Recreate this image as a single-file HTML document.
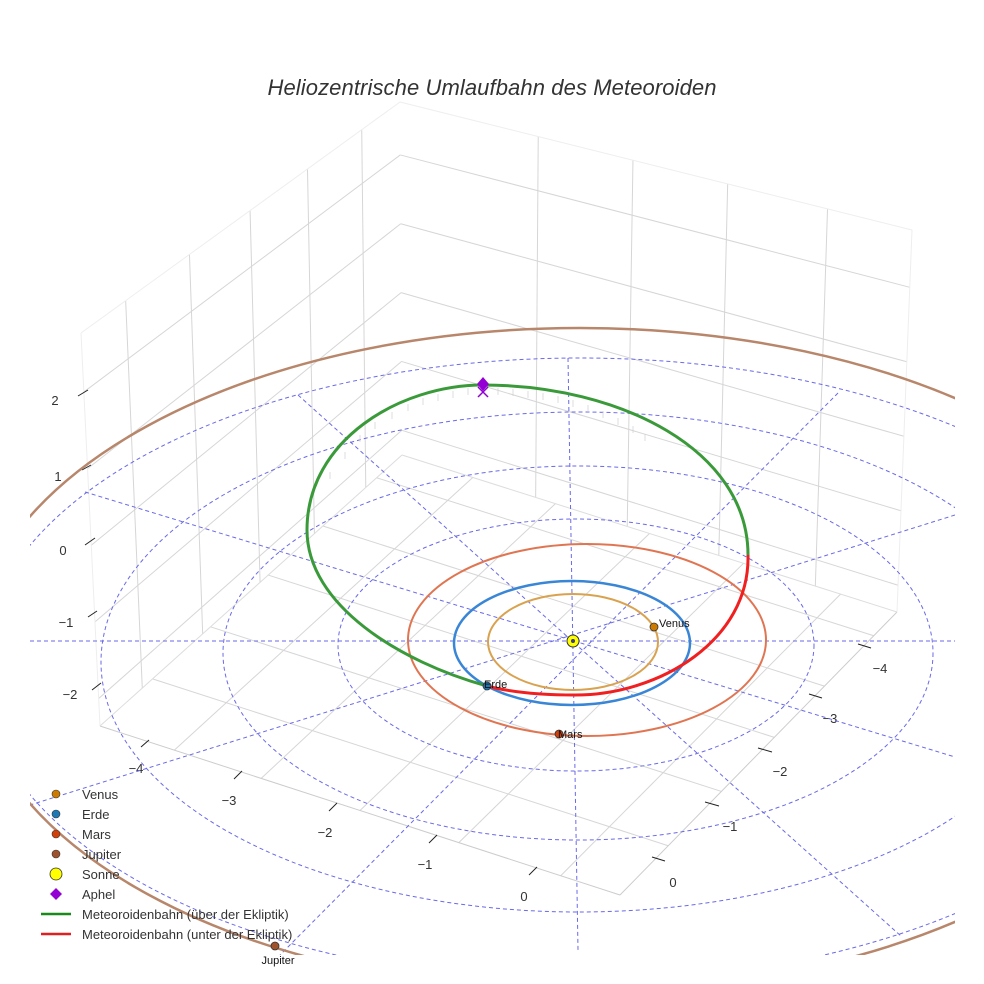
<!DOCTYPE html>
<html><head><meta charset="utf-8"><style>
html,body{margin:0;padding:0;background:#fff;}
svg{display:block;font-family:"Liberation Sans",sans-serif;}
</style></head><body>
<svg id="s" width="984" height="984" viewBox="0 0 984 984" xmlns="http://www.w3.org/2000/svg">
<defs><clipPath id="c"><rect x="30" y="80" width="925" height="875"/></clipPath></defs>
<text x="492" y="95" text-anchor="middle" font-size="22" font-style="italic" fill="#333" textLength="449">Heliozentrische Umlaufbahn des Meteoroiden</text>
<g id="grid" stroke="#d6d6d6" stroke-width="1" fill="none"></g>
<g id="ticks" stroke="#222" stroke-width="1"></g>
<g font-size="13" fill="#333" text-anchor="middle">
<text x="55" y="405">2</text><text x="58" y="481">1</text><text x="63" y="555">0</text><text x="66" y="627">−1</text><text x="70" y="699">−2</text>
<text x="136" y="773">−4</text><text x="229" y="805">−3</text><text x="325" y="837">−2</text><text x="425" y="869">−1</text><text x="524" y="901">0</text>
<text x="880" y="673">−4</text><text x="830" y="723">−3</text><text x="780" y="776">−2</text><text x="730" y="831">−1</text><text x="673" y="887">0</text>
</g>
<g clip-path="url(#c)" fill="none">
<g stroke="#6a6ae8" stroke-width="1" stroke-dasharray="4,3">
<ellipse cx="576" cy="645" rx="238" ry="126"/>
<ellipse cx="578" cy="653" rx="355" ry="187"/>
<ellipse cx="579" cy="662" rx="478" ry="250"/>
<ellipse cx="580" cy="670" rx="600" ry="312"/>
<line x1="30" y1="641" x2="955" y2="641"/>
<line x1="568" y1="358" x2="578" y2="950"/>
<line x1="85" y1="492" x2="955" y2="757"/>
<line x1="298" y1="395" x2="902" y2="937"/>
<line x1="838" y1="393" x2="280" y2="955"/>
<line x1="955" y1="515" x2="30" y2="805"/>
</g>
<ellipse cx="580" cy="660" rx="610" ry="332" stroke="#b8866a" stroke-width="2.5"/>
</g>
<ellipse cx="573" cy="642" rx="85" ry="48" fill="none" stroke="#d9a24f" stroke-width="2"/>
<ellipse cx="572" cy="643" rx="118" ry="62" fill="none" stroke="#3a86d6" stroke-width="2.5"/>
<ellipse cx="587" cy="640" rx="179" ry="96" fill="none" stroke="#e07552" stroke-width="2"/>
<g id="drops" stroke="#d0d0d0" stroke-width="0.7"></g>
<path d="M487,686 C400,662 307,605 307,530 C307,440 400,385 483,385 C620,385 748,450 748,555" fill="none" stroke="#3a9a3a" stroke-width="3"/>
<path d="M748,555 C750,640 660,695 575,695 C540,695 510,692 487,686" fill="none" stroke="#f02020" stroke-width="3"/>
<circle cx="573" cy="641" r="6" fill="#ffff00" stroke="#333" stroke-width="1"/>
<circle cx="573" cy="641" r="2" fill="#3a3a9a"/>
<circle cx="654" cy="627" r="4" fill="#cc7a00" stroke="#333" stroke-width="0.8"/>
<text x="659" y="627" font-size="11" fill="#111">Venus</text>
<circle cx="487" cy="686" r="4" fill="#1f77b4" stroke="#333" stroke-width="0.8"/>
<text x="484" y="688" font-size="11" fill="#111">Erde</text>
<circle cx="559" cy="734" r="4" fill="#d2400a" stroke="#333" stroke-width="0.8"/>
<text x="558" y="738" font-size="11" fill="#111">Mars</text>
<circle cx="275" cy="946" r="4" fill="#a0522d" stroke="#333" stroke-width="0.8"/>
<text x="278" y="964" font-size="11" fill="#111" text-anchor="middle">Jupiter</text>
<path d="M483,377 L489,384 L483,391 L477,384 Z" fill="#9400d3"/>
<path d="M478,387 L488,397 M488,387 L478,397" stroke="#9400d3" stroke-width="1.5"/>
<g font-size="13" fill="#333">
<circle cx="56" cy="794" r="4" fill="#cc7a00" stroke="#333" stroke-width="0.6"/><text x="82" y="799">Venus</text>
<circle cx="56" cy="814" r="4" fill="#1f77b4" stroke="#333" stroke-width="0.6"/><text x="82" y="819">Erde</text>
<circle cx="56" cy="834" r="4" fill="#d2400a" stroke="#333" stroke-width="0.6"/><text x="82" y="839">Mars</text>
<circle cx="56" cy="854" r="4" fill="#a0522d" stroke="#333" stroke-width="0.6"/><text x="82" y="859">Jupiter</text>
<circle cx="56" cy="874" r="6" fill="#ffff00" stroke="#333" stroke-width="0.8"/><text x="82" y="879">Sonne</text>
<path d="M56,888 L62,894 L56,900 L50,894 Z" fill="#9400d3"/><text x="82" y="899">Aphel</text>
<line x1="41" y1="914" x2="71" y2="914" stroke="#1a8a1a" stroke-width="2.5"/><text x="82" y="919">Meteoroidenbahn (über der Ekliptik)</text>
<line x1="41" y1="934" x2="71" y2="934" stroke="#e02020" stroke-width="2.5"/><text x="82" y="939">Meteoroidenbahn (unter der Ekliptik)</text>
</g>
</svg>
<script>
(function(){
var NS="http://www.w3.org/2000/svg";
function L(g,a,b,st){var l=document.createElementNS(NS,"line");l.setAttribute("x1",a[0]);l.setAttribute("y1",a[1]);l.setAttribute("x2",b[0]);l.setAttribute("y2",b[1]);if(st)l.setAttribute("stroke",st);g.appendChild(l);}
function lerp(a,b,t){return [a[0]+(b[0]-a[0])*t,a[1]+(b[1]-a[1])*t];}
function quad(g,A,B,C,D,us,vs){
 us.forEach(function(u){L(g,lerp(A,B,u),lerp(D,C,u));});
 vs.forEach(function(v){L(g,lerp(A,D,v),lerp(B,C,v));});
}
var g=document.getElementById("grid");
var TB=[400,102],TR=[912,230],BR=[897,612],BB=[402,455],TL=[81,333],BL=[100,726],F=[620,895];
quad(g,TB,TR,BR,BB,[0.27,0.455,0.64,0.835],[0.15,0.345,0.54,0.735,0.93]);
L(g,TB,TR,"#eee");L(g,TR,BR,"#eee");
quad(g,TB,TL,BL,BB,[0.12,0.29,0.47,0.66,0.86],[0.15,0.345,0.54,0.735,0.93]);
L(g,TB,TL,"#eee");L(g,TL,BL,"#eee");
var us=[0.143,0.31,0.5,0.69,0.886],vs=[0.084,0.262,0.443,0.634,0.826];
us.forEach(function(u){L(g,lerp(BB,BR,u),lerp(BL,F,u));});
vs.forEach(function(v){L(g,lerp(BL,BB,1-v),lerp(F,BR,1-v));});
L(g,BL,F,"#ccc");L(g,F,BR,"#ccc");L(g,BB,BL,"#ddd");L(g,BB,BR,"#ddd");
var t=document.getElementById("ticks");
[[78,396,88,390],[82,470,91,465],[85,545,95,538],[88,617,97,611],[92,690,101,683],
 [141,747,149,740],[234,779,242,771],[329,811,337,803],[429,843,437,835],[529,875,537,867],
 [652,857,665,861],[705,802,719,806],[758,748,772,752],[809,694,822,698],[858,644,871,648]
].forEach(function(a){L(t,[a[0],a[1]],[a[2],a[3]]);});
var d=document.getElementById("drops");
[[330,470],[345,450],[360,433],[375,420],[392,410],[408,402],[423,396],[438,392],[453,389],[468,386],[498,386],[513,387],[528,389],[543,391],[558,394],[573,398],[588,403],[603,409],[618,416],[633,424],[645,432]].forEach(function(p){L(d,[p[0],p[1]+2],[p[0],p[1]+9]);});
})();
</script>
</body></html>
